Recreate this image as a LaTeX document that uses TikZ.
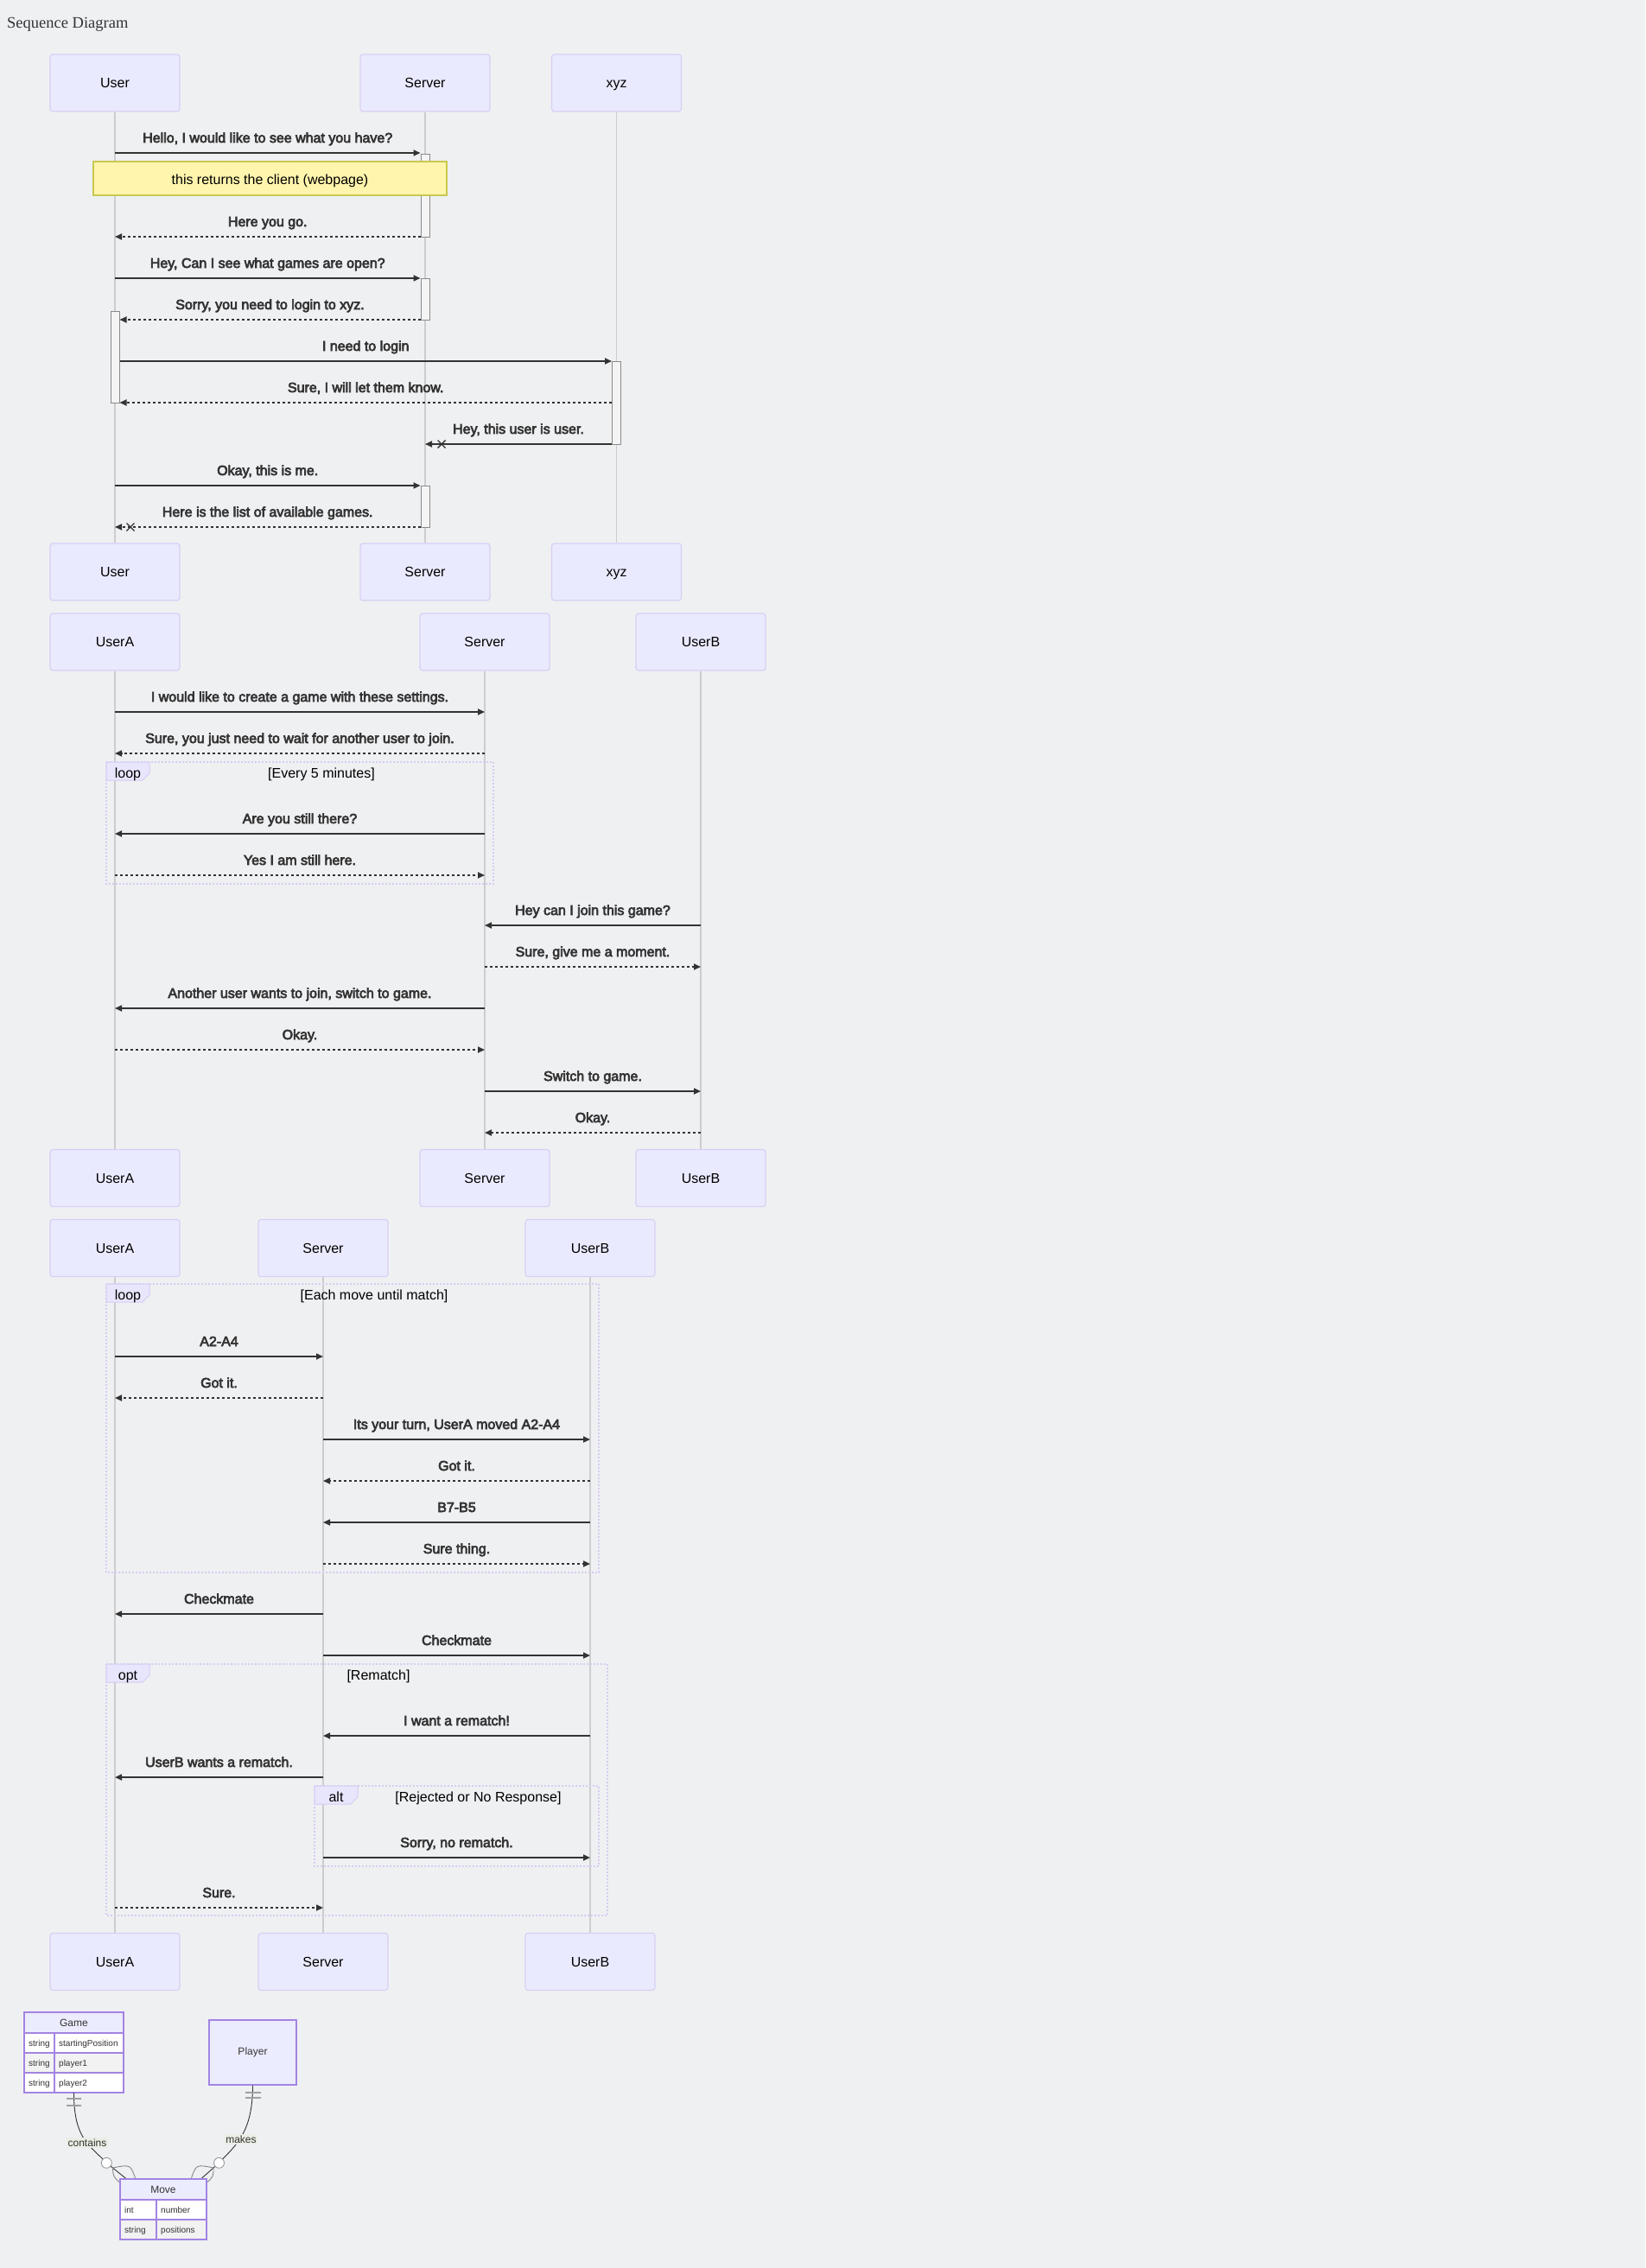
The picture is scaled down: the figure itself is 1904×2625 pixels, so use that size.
\documentclass[tikz,border=0pt]{standalone}
\usepackage{fontspec}
\setmainfont{Liberation Sans}
\newfontfamily\msgfont[FakeBold=4]{Liberation Sans}
\newfontfamily\titlefont{Liberation Serif}
\usetikzlibrary{arrows.meta,calc}
\definecolor{bg}{HTML}{EFF0F2}
\definecolor{actfill}{HTML}{EAEAFF}
\definecolor{actdraw}{HTML}{D9CFF3}
\definecolor{lifel}{HTML}{CDCDCD}
\definecolor{msgc}{HTML}{333333}
\definecolor{notefill}{HTML}{FFF5AD}
\definecolor{notedraw}{HTML}{C9C84F}
\definecolor{framec}{HTML}{D6CCF4}
\definecolor{lblfill}{HTML}{E8E6FC}
\definecolor{actvfill}{HTML}{F4F4F4}
\definecolor{actvdraw}{HTML}{8A8A8A}
\definecolor{erdraw}{HTML}{A384E3}
\definecolor{erhead}{HTML}{ECECFF}
\definecolor{ereven}{HTML}{F2F2F2}
\definecolor{erbar}{HTML}{A0A0A0}
\definecolor{ercrow}{HTML}{888888}
\definecolor{lblbg}{HTML}{EBEEE4}
\tikzset{
  actor/.style={draw=actdraw, fill=actfill, rounded corners=3pt, line width=1.2pt,
    minimum width=150pt, minimum height=66pt, inner sep=0pt,
    font=\fontsize{16}{19}\selectfont, text=black, text height=11.5pt, text depth=0pt},
  lifeline/.style={draw=lifel, line width=1.6pt},
  msgline/.style={draw=msgc, line width=1.7pt, -{Triangle[length=8pt,width=7pt]}},
  rplline/.style={msgline, dash pattern=on 3pt off 3pt},
  msgtext/.style={font=\msgfont\fontsize{16}{19}\selectfont, text=msgc, anchor=base, inner sep=0pt},
  actv/.style={draw=actvdraw, fill=actvfill, line width=1pt, minimum width=10pt, inner sep=0pt},
  notebox/.style={draw=notedraw, fill=notefill, line width=1.2pt},
  notetext/.style={font=\fontsize{16}{19}\selectfont, text=black, anchor=base, inner sep=0pt},
  frameline/.style={draw=framec, line width=1.6pt, dash pattern=on 2pt off 2pt},
  framelbl/.style={draw=framec, fill=lblfill, line width=1pt},
  frametext/.style={font=\fontsize{16}{19}\selectfont, text=black, anchor=base, inner sep=0pt},
  xmark/.style={draw=msgc, line width=1.4pt},
  erbox/.style={draw=erdraw, line width=1.4pt},
  ername/.style={font=\fontsize{12}{14}\selectfont, text=msgc, anchor=base, inner sep=0pt},
  ertxt/.style={font=\fontsize{10}{12}\selectfont, text=msgc, anchor=base west, inner sep=0pt},
  erline/.style={draw=msgc, line width=0.9pt},
  ercrowline/.style={draw=ercrow, line width=0.9pt},
  erbarline/.style={draw=erbar, line width=1.3pt},
  ercirc/.style={circle, draw=gray!80, fill=white, line width=0.9pt, minimum size=12pt, inner sep=0pt},
  erlabel/.style={font=\fontsize{12}{14}\selectfont, text=msgc, fill=lblbg, anchor=base, inner sep=1.5pt},
}
% #1 name, #2 style, #3 from, #4 to, #5 y, #6 text
\newcommand\seqmsg[6]{%
  \draw[#2] (#3 |- 0,#5) -- (#4 |- 0,#5);
  \node[msgtext] (#1) at ($(#3 |- 0,#5)!0.5!(#4 |- 0,#5)+(0,-12)$) {#6};
}
% cross mark: #1 x, #2 y
\newcommand\seqx[2]{%
  \draw[xmark] ({#1-4.5},{#2-4.5}) -- ({#1+4.5},{#2+4.5}) ({#1-4.5},{#2+4.5}) -- ({#1+4.5},{#2-4.5});
}
% frame: #1 name, #2 x0, #3 y0, #4 x1, #5 y1, #6 label, #7 condition
\newcommand\seqframe[7]{%
  \draw[frameline] (#2,#3) rectangle (#4,#5);
  \draw[framelbl] (#2,#3) -- ({#2+50},#3) -- ({#2+50},{#3+13}) -- ({#2+42},{#3+21}) -- (#2,{#3+21}) -- cycle;
  \node[frametext] (#1l) at ({#2+25},{#3+18}) {#6};
  \node[frametext] (#1c) at ({(#2+50+#4)/2},{#3+18}) {#7};
}
\begin{document}
\begin{tikzpicture}[x=1pt, y=-1pt]
\useasboundingbox (0,0) rectangle (1904,2625);
\fill[bg] (0,0) rectangle (1904,2625);

\node[anchor=base west, font=\titlefont\fontsize{18.5}{22}\selectfont, text=msgc, inner sep=0pt] (title) at (8,33) {Sequence Diagram};

% ---------------- Section 1 ----------------
\node[actor] (U1) at (133,96) {User};
\node[actor] (S1) at (492,96) {Server};
\node[actor] (X1) at (713.5,96) {xyz};
\node[actor] (U1b) at (133,662) {User};
\node[actor] (S1b) at (492,662) {Server};
\node[actor] (X1b) at (713.5,662) {xyz};
\draw[lifeline] (U1.south) -- (U1b.north);
\draw[lifeline] (S1.south) -- (S1b.north);
\draw[lifeline] (X1.south) -- (X1b.north);

\node[actv, minimum height=95pt] (A1) at (492,226.5) {};
\node[actv, minimum height=48pt] (A2) at (492,346) {};
\node[actv, minimum height=106pt] (A3) at (133,413) {};
\node[actv, minimum height=96pt] (A4) at (713.5,466) {};
\node[actv, minimum height=48pt] (A5) at (492,586) {};

\seqmsg{m1}{msgline}{U1}{A1.west}{177}{Hello, I would like to see what you have?}
\draw[notebox] (108,187) rectangle (517,226);
\node[notetext] (n1) at (312.5,214) {this returns the client (webpage)};
\seqmsg{m2}{rplline}{A1.west}{U1}{274}{Here you go.}
\seqmsg{m3}{msgline}{U1}{A2.west}{322}{Hey, Can I see what games are open?}
\seqmsg{m4}{rplline}{A2.west}{A3.east}{370}{Sorry, you need to login to xyz.}
\seqmsg{m5}{msgline}{A3.east}{A4.west}{418}{I need to login}
\seqmsg{m6}{rplline}{A4.west}{A3.east}{466}{Sure, I will let them know.}
\seqmsg{m7}{msgline}{A4.west}{S1}{514}{Hey, this user is user.}
\seqx{511}{514}
\seqmsg{m8}{msgline}{U1}{A5.west}{562}{Okay, this is me.}
\seqmsg{m9}{rplline}{A5.west}{U1}{610}{Here is the list of available games.}
\seqx{151}{610}

% ---------------- Section 2 ----------------
\node[actor] (UA2) at (133,743) {UserA};
\node[actor] (SV2) at (561,743) {Server};
\node[actor] (UB2) at (811,743) {UserB};
\node[actor] (UA2b) at (133,1363.5) {UserA};
\node[actor] (SV2b) at (561,1363.5) {Server};
\node[actor] (UB2b) at (811,1363.5) {UserB};
\draw[lifeline] (UA2.south) -- (UA2b.north);
\draw[lifeline] (SV2.south) -- (SV2b.north);
\draw[lifeline] (UB2.south) -- (UB2b.north);

\seqmsg{p1}{msgline}{UA2}{SV2}{824}{I would like to create a game with these settings.}
\seqmsg{p2}{rplline}{SV2}{UA2}{872}{Sure, you just need to wait for another user to join.}
\seqframe{f1}{123}{882}{571}{1023}{loop}{[Every 5 minutes]}
\seqmsg{p3}{msgline}{SV2}{UA2}{965}{Are you still there?}
\seqmsg{p4}{rplline}{UA2}{SV2}{1013}{Yes I am still here.}
\seqmsg{p5}{msgline}{UB2}{SV2}{1071}{Hey can I join this game?}
\seqmsg{p6}{rplline}{SV2}{UB2}{1119}{Sure, give me a moment.}
\seqmsg{p7}{msgline}{SV2}{UA2}{1167}{Another user wants to join, switch to game.}
\seqmsg{p8}{rplline}{UA2}{SV2}{1215}{Okay.}
\seqmsg{p9}{msgline}{SV2}{UB2}{1263}{Switch to game.}
\seqmsg{p10}{rplline}{UB2}{SV2}{1311}{Okay.}

% ---------------- Section 3 ----------------
\node[actor] (UA3) at (133,1444.5) {UserA};
\node[actor] (SV3) at (374,1444.5) {Server};
\node[actor] (UB3) at (683,1444.5) {UserB};
\node[actor] (UA3b) at (133,2270.5) {UserA};
\node[actor] (SV3b) at (374,2270.5) {Server};
\node[actor] (UB3b) at (683,2270.5) {UserB};
\draw[lifeline] (UA3.south) -- (UA3b.north);
\draw[lifeline] (SV3.south) -- (SV3b.north);
\draw[lifeline] (UB3.south) -- (UB3b.north);

\seqframe{f2}{123}{1486}{693}{1820}{loop}{[Each move until match]}
\seqmsg{q1}{msgline}{UA3}{SV3}{1570}{A2-A4}
\seqmsg{q2}{rplline}{SV3}{UA3}{1618}{Got it.}
\seqmsg{q3}{msgline}{SV3}{UB3}{1666}{Its your turn, UserA moved A2-A4}
\seqmsg{q4}{rplline}{UB3}{SV3}{1714}{Got it.}
\seqmsg{q5}{msgline}{UB3}{SV3}{1762}{B7-B5}
\seqmsg{q6}{rplline}{SV3}{UB3}{1810}{Sure thing.}
\seqmsg{q7}{msgline}{SV3}{UA3}{1868}{Checkmate}
\seqmsg{q8}{msgline}{SV3}{UB3}{1916}{Checkmate}
\seqframe{f3}{123}{1926}{703}{2217}{opt}{[Rematch]}
\seqmsg{q9}{msgline}{UB3}{SV3}{2009}{I want a rematch!}
\seqmsg{q10}{msgline}{SV3}{UA3}{2057}{UserB wants a rematch.}
\seqframe{f4}{364}{2067}{693}{2160}{alt}{[Rejected or No Response]}
\seqmsg{q11}{msgline}{SV3}{UB3}{2150}{Sorry, no rematch.}
\seqmsg{q12}{rplline}{UA3}{SV3}{2208}{Sure.}

% ---------------- ER diagram ----------------
% Game
\fill[erhead] (28,2329) rectangle (143,2353);
\fill[white] (28,2353) rectangle (143,2376);
\fill[ereven] (28,2376) rectangle (143,2399);
\fill[white] (28,2399) rectangle (143,2422);
\draw[erbox] (28,2329) rectangle (143,2422);
\draw[erbox] (28,2353) -- (143,2353) (28,2376) -- (143,2376) (28,2399) -- (143,2399) (63,2353) -- (63,2422);
\node[minimum width=115pt, minimum height=93pt, inner sep=0pt] (Game) at (85.5,2375.5) {};
\node[ername] (gname) at (85.5,2345.5) {Game};
\node[ertxt] (g1t) at (33,2368) {string};
\node[ertxt] (g1n) at (68,2368) {startingPosition};
\node[ertxt] (g2t) at (33,2391) {string};
\node[ertxt] (g2n) at (68,2391) {player1};
\node[ertxt] (g3t) at (33,2414) {string};
\node[ertxt] (g3n) at (68,2414) {player2};

% Player
\node[draw=erdraw, fill=erhead, line width=1.4pt, minimum width=101pt, minimum height=75pt, inner sep=0pt] (Player) at (292.5,2375.5) {};
\node[ername] (pname) at (292.5,2378.5) {Player};

% Move
\fill[erhead] (139,2522) rectangle (239,2546);
\fill[white] (139,2546) rectangle (239,2569);
\fill[ereven] (139,2569) rectangle (239,2592);
\node[minimum width=100pt, minimum height=70pt, inner sep=0pt] (Move) at (189,2557) {};
\node[ername] (mname) at (189,2538) {Move};
\node[ertxt] (m1t) at (144,2561) {int};
\node[ertxt] (m1n) at (186,2561) {number};
\node[ertxt] (m2t) at (144,2584) {string};
\node[ertxt] (m2n) at (186,2584) {positions};

% Game -> Move (contains)
\node[ercirc] (gc) at (123.3,2503.3) {};
\draw[erline] (Game.south) .. controls +(0,50) and +(-22,-22) .. (gc);
\draw[erbarline] (77,2429) -- (94,2429) (77,2437) -- (94,2437);
\draw[erline] (gc) -- ($(Move.north west)+(7.5,0)$);
\draw[ercrowline] (130.5,2509) .. controls (131,2519) .. ($(Move.north west)+(0,4.5)$);
\draw[ercrowline] (130.5,2509) .. controls (151,2505) .. ($(Move.north west)+(18,0)$);
\node[erlabel] (lc) at (101,2484) {contains};

% Player -> Move (makes)
\node[ercirc] (pc) at (253.5,2503.3) {};
\draw[erline] (Player.south) .. controls +(0,52) and +(21,-22) .. (pc);
\draw[erbarline] (284,2422) -- (302,2422) (284,2428) -- (302,2428);
\draw[erline] (pc) -- ($(Move.north east)+(-6.5,0)$);
\draw[ercrowline] (247,2509) .. controls (247,2519) .. ($(Move.north east)+(0,4.5)$);
\draw[ercrowline] (247,2509) .. controls (227,2505) .. ($(Move.north east)+(-18,0)$);
\node[erlabel] (lm) at (279,2480) {makes};

\draw[erbox] (139,2522) rectangle (239,2592);
\draw[erbox] (139,2546) -- (239,2546) (139,2569) -- (239,2569) (181,2546) -- (181,2592);
\end{tikzpicture}
\end{document}
